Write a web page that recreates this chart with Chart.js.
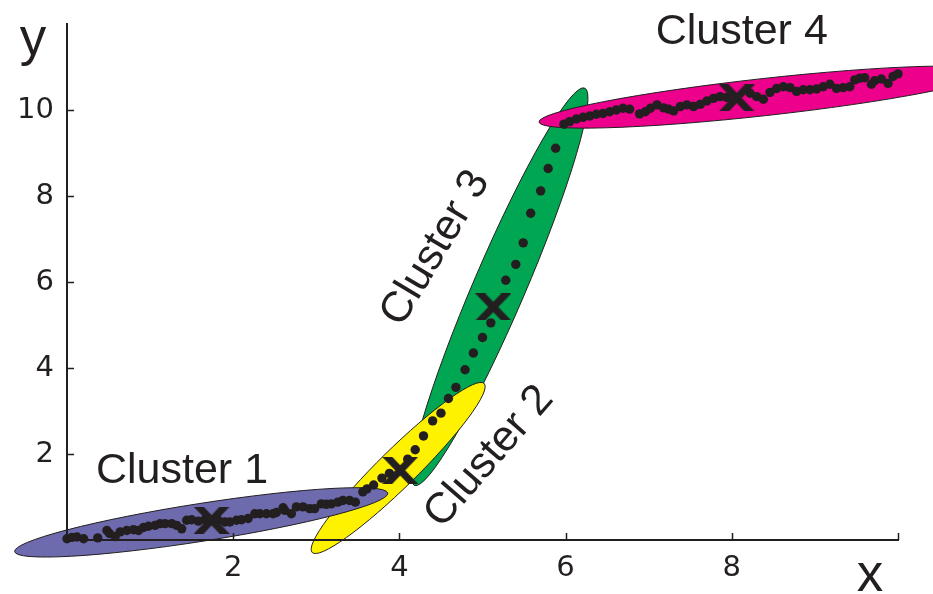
<!DOCTYPE html>
<html>
<head>
<meta charset="utf-8">
<script src="https://cdn.jsdelivr.net/npm/chart.js@4.4.1/dist/chart.umd.min.js"></script>
<style>
  html, body { margin: 0; padding: 0; background: #ffffff; }
  #wrap { width: 933px; height: 594px; }
</style>
</head>
<body>
<div id="wrap"><canvas id="chart" width="933" height="594"></canvas></div>
<script>
// ---- data ----------------------------------------------------------------
const clusterNames = ['Cluster 1', 'Cluster 2', 'Cluster 3', 'Cluster 4'];

const cluster1X = [0.00, 0.06, 0.12, 0.20, 0.37, 0.48, 0.51, 0.58, 0.64, 0.72, 0.80, 0.86, 0.92, 0.98,
                   1.06, 1.12, 1.18, 1.26, 1.32, 1.38, 1.44, 1.50, 1.58, 1.66, 1.82, 1.90, 1.96, 2.04,
                   2.10, 2.18, 2.26, 2.32, 2.40, 2.48, 2.52, 2.60, 2.62, 2.70, 2.76, 2.84, 2.92, 2.98,
                   3.06, 3.12, 3.18, 3.26, 3.32, 3.40, 3.47];
const cluster1Y = [0.03, 0.06, 0.07, 0.03, 0.05, 0.22, 0.15, 0.08, 0.19, 0.22, 0.24, 0.22, 0.29, 0.32,
                   0.34, 0.38, 0.38, 0.38, 0.34, 0.26, 0.46, 0.47, 0.44, 0.47, 0.46, 0.42, 0.42, 0.46,
                   0.47, 0.50, 0.61, 0.61, 0.61, 0.61, 0.64, 0.75, 0.69, 0.61, 0.77, 0.77, 0.73, 0.73,
                   0.84, 0.83, 0.84, 0.88, 0.92, 0.92, 0.88];

const cluster2X = [3.56, 3.61, 3.69, 3.79, 3.88, 4.10, 4.19, 4.29, 4.40, 4.50, 4.59, 4.68, 4.79];
const cluster2Y = [1.12, 1.19, 1.28, 1.44, 1.55, 1.88, 2.10, 2.42, 2.77, 2.95, 3.29, 3.55, 3.96];

const cluster3X = [4.89, 5.00, 5.10, 5.28, 5.40, 5.49, 5.58, 5.70, 5.79, 5.88];
const cluster3Y = [4.35, 4.71, 5.05, 6.04, 6.41, 6.91, 7.60, 8.12, 8.64, 9.11];

const cluster4X = [5.98, 6.05, 6.13, 6.21, 6.29, 6.37, 6.45, 6.53, 6.61, 6.69, 6.77, 6.89, 6.96, 7.02,
                   7.10, 7.18, 7.24, 7.30, 7.38, 7.46, 7.54, 7.62, 7.70, 7.78, 7.86, 7.94, 8.22, 8.30,
                   8.38, 8.46, 8.54, 8.62, 8.70, 8.78, 8.86, 8.94, 9.02, 9.10, 9.18, 9.26, 9.34, 9.42,
                   9.48, 9.54, 9.60, 9.68, 9.72, 9.80, 9.88, 9.94, 10.00];
const cluster4Y = [9.67, 9.73, 9.79, 9.83, 9.86, 9.90, 9.92, 9.96, 10.00, 10.04, 10.02, 9.91, 9.96, 10.04,
                   10.12, 10.05, 10.02, 9.98, 10.08, 10.12, 10.08, 10.13, 10.21, 10.27, 10.31, 10.29, 10.39, 10.31,
                   10.25, 10.41, 10.50, 10.54, 10.52, 10.43, 10.47, 10.47, 10.49, 10.54, 10.60, 10.50, 10.52, 10.54,
                   10.70, 10.74, 10.75, 10.60, 10.68, 10.72, 10.62, 10.78, 10.84];

// cluster centres
const centroidX = [1.74, 4.01, 5.13, 8.06];
const centroidY = [0.46, 1.62, 5.42, 10.28];

// cluster spread: ends of each ellipse's long axis and its width-to-length ratio
const spreadFromX = [-0.63, 2.95, 4.18, 5.68];
const spreadFromY = [-0.27, -0.29, 1.27, 9.72];
const spreadToX   = [3.86, 5.02, 6.23, 11.10];
const spreadToY   = [1.09, 3.64, 10.51, 10.88];
const spreadRatio = [0.10, 0.157, 0.12, 0.082];

// axes
const xTickLabels = [2, 4, 6, 8];
const yTickLabels = [2, 4, 6, 8, 10];
const xTickMarks = [2, 4, 6, 8, 10];
const yTickMarks = [2, 4, 6, 8, 10];

// ---- appearance ----------------------------------------------------------
const INK = '#231f20';
const spreadColors = ['#6d6aae', '#fff200', '#00a651', '#ec008c'];
const spreadDrawOrder = [2, 3, 1, 0];           // green under magenta, yellow, purple
const labelPlacement = [                          // centre of each cluster name, in data units
  { x: 1.384, y: 1.69, angle: 0 },
  { x: 5.05,  y: 1.99, angle: -49 },
  { x: 4.40,  y: 6.83, angle: -59 },
  { x: 8.12,  y: 11.90, angle: 0 }
];

// thick "X" used for the cluster centres
function makeCentreMark() {
  const w = 36, h = 27, s = 10;
  const c = document.createElement('canvas');
  c.width = w; c.height = h;
  const g = c.getContext('2d');
  g.fillStyle = INK;
  g.beginPath();
  g.moveTo(0, 0); g.lineTo(s, 0); g.lineTo(w, h); g.lineTo(w - s, h); g.closePath();
  g.fill();
  g.beginPath();
  g.moveTo(w - s, 0); g.lineTo(w, 0); g.lineTo(s, h); g.lineTo(0, h); g.closePath();
  g.fill();
  return c;
}

const toPoints = (xs, ys) => xs.map((x, i) => ({ x: x, y: ys[i] }));

// ---- plugins -------------------------------------------------------------
const spreadPlugin = {
  id: 'clusterSpread',
  beforeDraw(chart) {
    const { ctx, scales: { x, y } } = chart;
    ctx.save();
    spreadDrawOrder.forEach(i => {
      const x1 = x.getPixelForValue(spreadFromX[i]), y1 = y.getPixelForValue(spreadFromY[i]);
      const x2 = x.getPixelForValue(spreadToX[i]),   y2 = y.getPixelForValue(spreadToY[i]);
      const a = Math.hypot(x2 - x1, y2 - y1) / 2;
      const b = a * spreadRatio[i];
      ctx.beginPath();
      ctx.ellipse((x1 + x2) / 2, (y1 + y2) / 2, a, b, Math.atan2(y2 - y1, x2 - x1), 0, Math.PI * 2);
      ctx.fillStyle = spreadColors[i];
      ctx.fill();
      ctx.lineWidth = 1;
      ctx.strokeStyle = INK;
      ctx.stroke();
    });
    ctx.restore();
  }
};

const tickMarkPlugin = {
  id: 'inwardTicks',
  beforeDatasetsDraw(chart) {
    const { ctx, chartArea, scales: { x, y } } = chart;
    ctx.save();
    ctx.strokeStyle = INK;
    ctx.lineWidth = 1.5;
    ctx.beginPath();
    xTickMarks.forEach(v => {
      const px = Math.round(x.getPixelForValue(v)) + 0.5;
      ctx.moveTo(px, chartArea.bottom);
      ctx.lineTo(px, chartArea.bottom - 7);
    });
    yTickMarks.forEach(v => {
      const py = Math.round(y.getPixelForValue(v)) + 0.5;
      ctx.moveTo(chartArea.left, py);
      ctx.lineTo(chartArea.left + 7, py);
    });
    ctx.stroke();
    ctx.restore();
  }
};

const labelPlugin = {
  id: 'clusterLabels',
  afterDraw(chart) {
    const { ctx, chartArea, scales: { x, y } } = chart;
    ctx.save();
    ctx.fillStyle = INK;
    ctx.textAlign = 'center';
    ctx.textBaseline = 'alphabetic';
    const size = 43;
    ctx.font = size + 'px "Liberation Sans", Arial, sans-serif';
    clusterNames.forEach((name, i) => {
      const p = labelPlacement[i];
      ctx.save();
      ctx.translate(x.getPixelForValue(p.x), y.getPixelForValue(p.y));
      ctx.rotate(p.angle * Math.PI / 180);
      ctx.fillText(name, 0, size * 0.716 / 2);
      ctx.restore();
    });
    // axis letters
    ctx.font = '53px "Liberation Sans", Arial, sans-serif';
    ctx.fillText('y', chartArea.left - 34, chartArea.top + 31);
    ctx.fillText('x', chartArea.right - 28, chartArea.bottom + 51);
    ctx.restore();
  }
};

// ---- chart ---------------------------------------------------------------
const dotStyle = {
  pointRadius: 4.7,
  pointHoverRadius: 4.7,
  pointBackgroundColor: INK,
  pointBorderWidth: 0,
  showLine: false,
  clip: false
};

const tickFont = { family: '"DejaVu Sans", sans-serif', size: 29 };

new Chart(document.getElementById('chart'), {
  type: 'scatter',
  data: {
    datasets: [
      {
        label: 'centres',
        data: toPoints(centroidX, centroidY),
        pointStyle: makeCentreMark(),
        pointRadius: 18,
        showLine: false,
        clip: false
      },
      Object.assign({ label: clusterNames[0], data: toPoints(cluster1X, cluster1Y) }, dotStyle),
      Object.assign({ label: clusterNames[1], data: toPoints(cluster2X, cluster2Y) }, dotStyle),
      Object.assign({ label: clusterNames[2], data: toPoints(cluster3X, cluster3Y) }, dotStyle),
      Object.assign({ label: clusterNames[3], data: toPoints(cluster4X, cluster4Y) }, dotStyle)
    ]
  },
  options: {
    responsive: false,
    animation: false,
    events: [],
    layout: { padding: { left: 0, top: 24, right: 35, bottom: 0 } },
    plugins: { legend: { display: false }, tooltip: { enabled: false } },
    scales: {
      x: {
        type: 'linear',
        min: 0, max: 10,
        afterFit(scale) { scale.height = 54; scale.paddingLeft = 0; scale.paddingRight = 0; },
        grid: { drawOnChartArea: false, drawTicks: false },
        border: { color: INK, width: 2 },
        ticks: {
          stepSize: 2,
          padding: 11,
          color: INK,
          font: tickFont,
          maxRotation: 0,
          autoSkip: false,
          callback: v => (xTickLabels.includes(v) ? String(v) : '')
        }
      },
      y: {
        type: 'linear',
        min: 0, max: 12,
        afterFit(scale) { scale.width = 67; scale.paddingTop = 0; scale.paddingBottom = 0; },
        grid: { drawOnChartArea: false, drawTicks: false },
        border: { color: INK, width: 2 },
        ticks: {
          stepSize: 2,
          padding: 13,
          color: INK,
          font: tickFont,
          autoSkip: false,
          callback: v => (yTickLabels.includes(v) ? String(v) : '')
        }
      }
    }
  },
  plugins: [spreadPlugin, tickMarkPlugin, labelPlugin]
});
</script>
</body>
</html>
